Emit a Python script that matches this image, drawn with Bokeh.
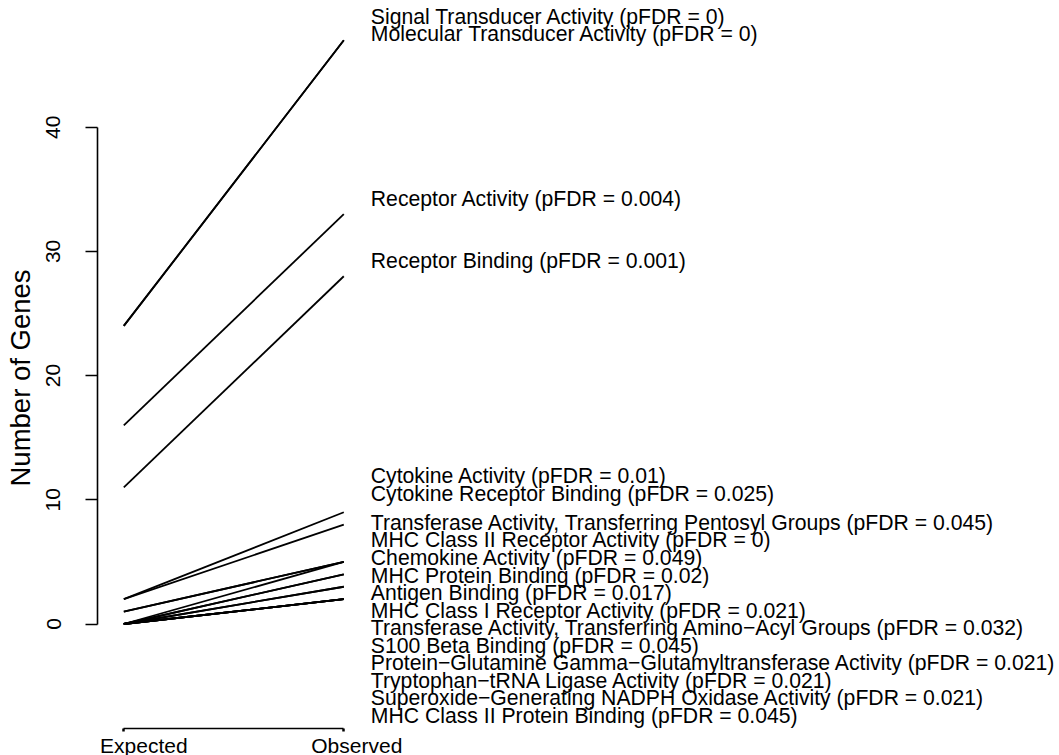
from bokeh.plotting import figure
from bokeh.models import ColumnDataSource, LabelSet, LinearAxis, FixedTicker, Range1d
from bokeh.core.properties import value
from bokeh.embed import file_html
from bokeh.resources import INLINE

# ---------------- data ----------------
terms = [
    "Signal Transducer Activity",
    "Molecular Transducer Activity",
    "Receptor Activity",
    "Receptor Binding",
    "Cytokine Activity",
    "Cytokine Receptor Binding",
    "Transferase Activity, Transferring Pentosyl Groups",
    "MHC Class II Receptor Activity",
    "Chemokine Activity",
    "MHC Protein Binding",
    "Antigen Binding",
    "MHC Class I Receptor Activity",
    "Transferase Activity, Transferring Amino\u2212Acyl Groups",
    "S100 Beta Binding",
    "Protein\u2212Glutamine Gamma\u2212Glutamyltransferase Activity",
    "Tryptophan\u2212tRNA Ligase Activity",
    "Superoxide\u2212Generating NADPH Oxidase Activity",
    "MHC Class II Protein Binding",
]
pfdr = [0, 0, 0.004, 0.001, 0.01, 0.025, 0.045, 0, 0.049, 0.02, 0.017,
        0.021, 0.032, 0.045, 0.021, 0.021, 0.021, 0.045]
expected = [24, 24, 16, 11, 2, 2, 1, 0, 1, 0, 0, 0, 0, 0, 0, 0, 0, 0]
observed = [47, 47, 33, 28, 9, 8, 5, 5, 5, 4, 4, 3, 3, 2, 2, 2, 2, 2]
# vertical positions of the (spread-out) text labels, in data units
label_y = [48.86, 47.46, 34.18, 29.19, 11.88, 10.40, 8.12, 6.72, 5.30, 3.85,
           2.43, 1.03, -0.39, -1.81, -3.20, -4.63, -6.02, -7.45]
y_ticks = [0, 10, 20, 30, 40]
x_labels = ["Expected", "Observed"]
x_positions = [1, 2]

# ---------------- layout ----------------
W, H = 1059, 755
LEFT = 97                 # frame left edge (px)
FONT = "Liberation Sans"
PX_X = 220.0              # px per x unit
PX_Y = 12.42              # px per y unit
Y0_PX = 623.5             # pixel row of y = 0
XAXIS_PX = 728            # pixel row of the x axis line
frame_w = W - LEFT
frame_h = H
x0 = 1 - 26.3 / PX_X
y_top = Y0_PX / PX_Y
x_range = Range1d(x0, x0 + frame_w / PX_X)
y_range = Range1d(y_top - frame_h / PX_Y, y_top)
x_axis_loc = (Y0_PX - XAXIS_PX) / PX_Y

p = figure(width=W, height=H, output_backend="svg", toolbar_location=None,
           x_range=x_range, y_range=y_range, x_axis_type=None, y_axis_type=None,
           min_border_left=LEFT, min_border_right=0, min_border_top=0,
           min_border_bottom=0)
p.outline_line_color = None
p.background_fill_color = "white"
p.border_fill_color = "white"

src = ColumnDataSource(dict(
    x0=[x_positions[0]] * len(terms), x1=[x_positions[1]] * len(terms),
    exp=expected, obs=observed, ly=label_y,
    label=[f"{t} (pFDR = {format(v, 'g')})" for t, v in zip(terms, pfdr)],
))

p.segment(x0="x0", y0="exp", x1="x1", y1="obs", source=src,
          line_color="black", line_width=1.8)

labels = LabelSet(x="x1", y="ly", text="label", source=src, x_offset=27, y_offset=1,
                  text_font=value(FONT), text_font_size="21.2px", text_color="black",
                  text_baseline="middle", text_align="left")
p.add_layout(labels)

# y axis
yaxis = LinearAxis(ticker=FixedTicker(ticks=y_ticks), bounds=(0, 40),
                   axis_label="Number of Genes",
                   major_tick_out=12, major_tick_in=0,
                   major_label_orientation="vertical",
                   major_label_standoff=25, axis_label_standoff=8,
                   major_label_text_font=FONT, major_label_text_font_size="21px",
                   major_label_text_color="black",
                   axis_label_text_font=FONT, axis_label_text_font_size="27.5px",
                   axis_label_text_font_style="normal", axis_label_text_color="black",
                   axis_line_width=1.6, major_tick_line_width=1.6)
p.add_layout(yaxis, "left")

# x axis: line with small end ticks
xaxis_line = LinearAxis(ticker=FixedTicker(ticks=x_positions), bounds=(1, 2),
                        fixed_location=x_axis_loc,
                        major_tick_out=3, major_tick_in=0, major_tick_line_width=2.5,
                        major_label_text_color=None, axis_line_width=1.6)
p.add_layout(xaxis_line, "below")

# x axis labels (offset as in the reference)
label_shift = [20 / PX_X, 13 / PX_X]
lab_ticks = [a + b for a, b in zip(x_positions, label_shift)]
xaxis_lab = LinearAxis(ticker=FixedTicker(ticks=lab_ticks), fixed_location=x_axis_loc,
                       major_label_overrides={t: s for t, s in zip(lab_ticks, x_labels)},
                       axis_line_color=None, major_tick_line_color=None,
                       major_tick_out=0, major_tick_in=0, major_label_standoff=5,
                       major_label_text_font=FONT, major_label_text_font_size="21px",
                       major_label_text_color="black")
p.add_layout(xaxis_lab, "below")

open("out.html", "w").write(file_html(p, INLINE))
